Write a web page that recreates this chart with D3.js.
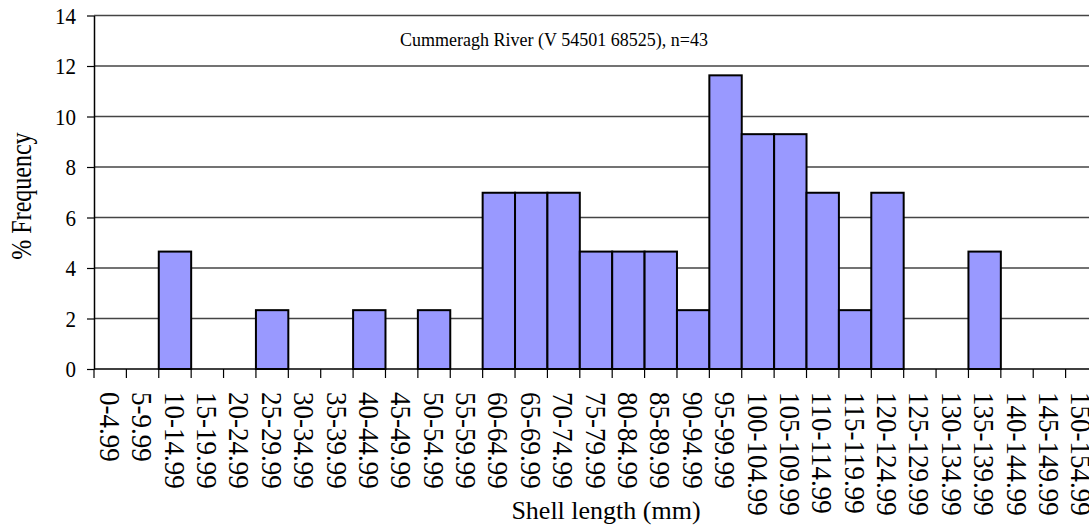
<!DOCTYPE html>
<html>
<head>
<meta charset="utf-8">
<script src="https://cdn.jsdelivr.net/npm/d3@7"></script>
<style>
  body { margin: 0; background: #fff; }
  svg { display: block; font-family: "Liberation Serif", "Times New Roman", serif; }
</style>
</head>
<body>
<div id="chart"></div>
<script>
const width = 1089, height = 531;

// shell length classes (mm)
const lengthClasses = ["0-4.99", "5-9.99", "10-14.99", "15-19.99", "20-24.99", "25-29.99",
  "30-34.99", "35-39.99", "40-44.99", "45-49.99", "50-54.99", "55-59.99",
  "60-64.99", "65-69.99", "70-74.99", "75-79.99", "80-84.99", "85-89.99",
  "90-94.99", "95-99.99", "100-104.99", "105-109.99", "110-114.99", "115-119.99",
  "120-124.99", "125-129.99", "130-134.99", "135-139.99", "140-144.99", "145-149.99",
  "150-154.99"];

// % frequency
const pctFrequency = [0, 0, 4.65, 0, 0, 2.33,
  0, 0, 2.33, 0, 2.33, 0,
  6.98, 6.98, 6.98, 4.65, 4.65, 4.65,
  2.33, 11.63, 9.30, 9.30, 6.98, 2.33,
  6.98, 0, 0, 4.65, 0, 0,
  0];

const yTicks = [0, 2, 4, 6, 8, 10, 12, 14];

const chartTitle = "Cummeragh River (V 54501 68525), n=43";

const margin = {left: 94, top: 15.5, bottom: 369, right: 1098};

var svg = d3.select("#chart").append("svg")
    .attr("width", width)
    .attr("height", height);

var x = d3.scaleBand()
    .domain(lengthClasses)
    .range([margin.left, margin.right])
    .padding(0);

var y = d3.scaleLinear()
    .domain([0, 14])
    .range([margin.bottom, margin.top]);

// gridlines
svg.append("g")
  .selectAll("line")
  .data(yTicks.filter(function(d) { return d > 0; }))
  .enter().append("line")
    .attr("x1", margin.left)
    .attr("x2", width)
    .attr("y1", function(d) { return y(d); })
    .attr("y2", function(d) { return y(d); })
    .style("stroke", "#444")
    .style("stroke-width", 1.3);

// bars
svg.append("g")
  .selectAll("rect")
  .data(lengthClasses.map(function(c, i) { return {cls: c, v: pctFrequency[i]}; })
        .filter(function(d) { return d.v > 0; }))
  .enter().append("rect")
    .attr("x", function(d) { return x(d.cls); })
    .attr("width", x.bandwidth())
    .attr("y", function(d) { return y(d.v); })
    .attr("height", function(d) { return y(0) - y(d.v); })
    .style("fill", "#9999ff")
    .style("stroke", "#000")
    .style("stroke-width", 2);

// y axis
var yAxis = svg.append("g")
    .attr("transform", "translate(" + margin.left + ",0)")
    .call(d3.axisLeft(y).tickValues(yTicks).tickSize(7).tickPadding(11).tickSizeOuter(0));
yAxis.select(".domain").style("stroke", "#000").style("stroke-width", 1.5);
yAxis.selectAll(".tick line").style("stroke", "#000").style("stroke-width", 1.2);
yAxis.selectAll(".tick text")
    .attr("transform", "scale(1,1.12)")
    .attr("y", 0)
    .style("font-family", "Liberation Serif")
    .style("font-size", "21px")
    .style("fill", "#000");

// x axis, ticks between categories
var xAxisG = svg.append("g");
xAxisG.append("line")
    .attr("x1", margin.left).attr("x2", width)
    .attr("y1", y(0)).attr("y2", y(0))
    .style("stroke", "#000").style("stroke-width", 1.5);
xAxisG.selectAll("line.tk")
  .data(lengthClasses)
  .enter().append("line")
    .attr("class", "tk")
    .attr("x1", function(d) { return x(d); })
    .attr("x2", function(d) { return x(d); })
    .attr("y1", y(0))
    .attr("y2", y(0) + 9)
    .style("stroke", "#000").style("stroke-width", 1.2);
xAxisG.selectAll("text")
  .data(lengthClasses)
  .enter().append("text")
    .attr("transform", function(d) {
      return "translate(" + (x(d) + x.bandwidth() / 2) + "," + (y(0) + 23) + ")rotate(90)scale(1,1.1)"; })
    .attr("dy", "0.35em")
    .attr("text-anchor", "start")
    .style("font-size", "27px")
    .style("fill", "#000")
    .text(function(d) { return d; });

// titles
svg.append("text")
    .attr("x", 554)
    .attr("y", 46)
    .attr("text-anchor", "middle")
    .style("font-size", "18px")
    .text(chartTitle);

svg.append("text")
    .attr("x", 606)
    .attr("y", 519)
    .attr("text-anchor", "middle")
    .style("font-size", "26px")
    .text("Shell length (mm)");

svg.append("text")
    .attr("transform", "translate(31,196)rotate(-90)scale(1,1.2)")
    .attr("text-anchor", "middle")
    .style("font-size", "24px")
    .text("% Frequency");
</script>
</body>
</html>
